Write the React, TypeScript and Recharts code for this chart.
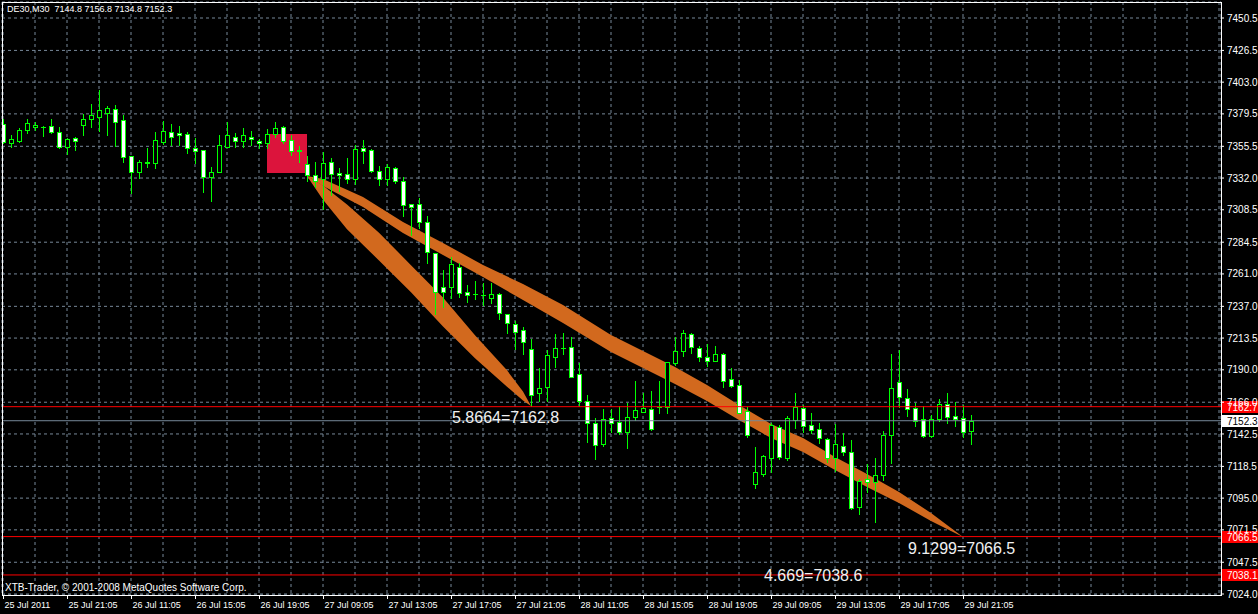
import { ComposedChart, Bar, Area, XAxis, YAxis, CartesianGrid, ReferenceLine, ReferenceArea, ReferenceDot } from "recharts"

// DE30 M30 candles, bar 0 = 25 Jul 2011 ... bar 121 = 29 Jul 21:35
const opens = [
  7372.0, 7358.2, 7359.6, 7367.6, 7370.0, 7370.0, 7370.5, 7365.9, 7354.8, 7361.6,
  7371.5, 7375.9, 7377.4, 7380.4, 7382.9, 7374.8, 7348.1, 7336.7, 7343.1, 7342.9,
  7358.9, 7365.9, 7365.1, 7364.6, 7354.0, 7352.8, 7332.5, 7336.7, 7355.2, 7362.6,
  7359.6, 7362.6, 7359.6, 7358.2, 7364.6, 7369.6, 7360.2, 7352.8, 7342.4, 7334.0,
  7331.1, 7343.9, 7335.5, 7334.8, 7331.1, 7354.2, 7352.5, 7337.0, 7331.1, 7339.2,
  7329.6, 7312.5, 7312.5, 7299.2, 7276.3, 7251.1, 7251.1, 7265.9, 7247.8, 7245.9,
  7245.2, 7243.0, 7246.1, 7231.1, 7223.9, 7219.5, 7205.4, 7172.6, 7177.1, 7199.7,
  7206.4, 7207.1, 7186.7, 7167.1, 7150.4, 7134.9, 7154.1, 7151.1, 7144.2, 7155.3,
  7159.0, 7160.8, 7162.7, 7162.7, 7195.3, 7204.2, 7216.3, 7205.9, 7199.3, 7196.8,
  7201.5, 7183.0, 7178.5, 7159.7, 7105.2, 7112.9, 7124.5, 7147.9, 7124.9, 7152.8,
  7161.5, 7149.1, 7146.2, 7138.8, 7124.5, 7133.8, 7128.9, 7088.6, 7109.2, 7107.2,
  7112.1, 7141.7, 7180.8, 7168.9, 7161.5, 7153.4, 7141.0, 7153.6, 7164.7, 7155.8,
  7154.1, 7144.8,
]
const highs = [
  7375.5, 7363.9, 7368.8, 7375.5, 7373.7, 7370.5, 7375.5, 7369.6, 7361.4, 7362.6,
  7379.4, 7386.8, 7397.2, 7385.3, 7386.1, 7378.7, 7348.1, 7345.4, 7354.0, 7366.1,
  7374.2, 7372.0, 7370.5, 7366.3, 7361.4, 7352.8, 7340.0, 7363.9, 7373.5, 7365.1,
  7368.8, 7366.8, 7360.7, 7368.1, 7373.5, 7370.5, 7363.9, 7355.7, 7348.3, 7343.9,
  7351.3, 7346.8, 7339.4, 7346.8, 7356.5, 7360.2, 7353.3, 7340.9, 7342.4, 7340.0,
  7332.5, 7312.5, 7317.0, 7303.9, 7276.3, 7263.9, 7273.8, 7268.9, 7252.8, 7256.0,
  7254.1, 7254.5, 7246.6, 7231.3, 7226.4, 7221.9, 7212.6, 7191.1, 7204.7, 7216.5,
  7217.0, 7214.1, 7195.3, 7171.4, 7154.1, 7160.8, 7160.8, 7163.2, 7165.2, 7181.7,
  7173.1, 7174.3, 7181.7, 7196.0, 7214.5, 7219.5, 7217.0, 7207.6, 7209.1, 7207.6,
  7202.2, 7191.1, 7182.5, 7162.2, 7133.1, 7126.9, 7150.4, 7149.1, 7156.0, 7172.5,
  7164.0, 7157.8, 7150.4, 7139.7, 7149.7, 7143.0, 7138.0, 7109.2, 7120.0, 7124.9,
  7144.7, 7201.7, 7204.7, 7175.6, 7165.2, 7163.2, 7156.5, 7168.2, 7172.6, 7166.2,
  7164.0, 7156.8,
]
const lows = [
  7357.9, 7355.0, 7358.9, 7365.6, 7367.6, 7363.1, 7365.1, 7354.5, 7349.8, 7352.8,
  7363.9, 7370.0, 7367.1, 7363.9, 7355.7, 7344.1, 7321.1, 7331.8, 7340.0, 7339.7,
  7357.2, 7356.5, 7356.5, 7350.8, 7343.4, 7321.9, 7315.2, 7336.7, 7355.2, 7354.8,
  7355.2, 7356.5, 7354.0, 7354.0, 7362.6, 7358.2, 7349.1, 7344.1, 7330.0, 7325.6,
  7309.3, 7319.2, 7322.2, 7328.1, 7327.6, 7343.4, 7336.7, 7327.1, 7326.9, 7328.1,
  7303.9, 7289.8, 7294.8, 7269.3, 7231.3, 7236.7, 7243.0, 7243.7, 7240.4, 7242.2,
  7238.0, 7239.3, 7227.4, 7217.0, 7205.2, 7201.7, 7163.2, 7167.1, 7167.1, 7191.9,
  7201.7, 7184.4, 7163.2, 7136.8, 7123.7, 7133.6, 7144.2, 7142.5, 7131.9, 7152.8,
  7159.0, 7145.4, 7158.3, 7157.8, 7193.6, 7200.2, 7202.7, 7196.8, 7192.8, 7196.8,
  7177.5, 7177.5, 7157.8, 7140.0, 7102.7, 7111.6, 7114.1, 7124.0, 7123.2, 7146.7,
  7144.2, 7143.0, 7135.6, 7122.0, 7115.1, 7126.9, 7086.9, 7083.5, 7099.8, 7077.1,
  7108.4, 7121.2, 7162.7, 7155.8, 7148.4, 7140.0, 7140.5, 7152.3, 7150.4, 7148.4,
  7140.5, 7134.8,
]
const closes = [
  7358.9, 7360.7, 7367.6, 7372.5, 7371.3, 7370.0, 7366.3, 7355.2, 7360.7, 7359.6,
  7375.5, 7378.5, 7382.4, 7383.9, 7373.7, 7347.4, 7336.3, 7343.9, 7344.1, 7360.2,
  7366.8, 7362.2, 7363.7, 7354.0, 7352.2, 7332.5, 7336.5, 7356.2, 7363.9, 7359.6,
  7363.9, 7360.7, 7357.7, 7364.6, 7368.8, 7359.6, 7352.2, 7352.3, 7334.5, 7330.0,
  7342.9, 7334.8, 7334.0, 7331.1, 7353.3, 7352.2, 7337.4, 7331.5, 7340.0, 7329.6,
  7312.3, 7310.8, 7299.7, 7277.0, 7247.8, 7247.8, 7268.4, 7247.1, 7245.2, 7245.9,
  7245.2, 7246.1, 7231.9, 7224.4, 7218.2, 7210.4, 7171.4, 7176.3, 7200.7, 7205.9,
  7206.4, 7184.9, 7167.1, 7150.8, 7134.3, 7153.4, 7150.4, 7144.2, 7154.8, 7160.2,
  7161.5, 7146.0, 7162.7, 7195.6, 7203.7, 7217.0, 7206.7, 7199.7, 7196.8, 7201.7,
  7181.9, 7178.2, 7158.3, 7141.7, 7114.1, 7126.2, 7149.1, 7125.7, 7154.1, 7162.7,
  7148.6, 7145.2, 7139.3, 7124.5, 7134.9, 7128.9, 7087.9, 7107.7, 7106.7, 7112.1,
  7141.7, 7176.3, 7169.7, 7160.8, 7152.3, 7141.0, 7153.4, 7164.7, 7155.3, 7153.8,
  7144.2, 7152.3,
]

// one time label every 8 bars
const timeLabels = [
  "25 Jul 2011", "25 Jul 21:05", "26 Jul 11:05", "26 Jul 15:05", "26 Jul 19:05",
  "27 Jul 09:05", "27 Jul 13:05", "27 Jul 17:05", "27 Jul 21:05", "28 Jul 11:05",
  "28 Jul 15:05", "28 Jul 19:05", "29 Jul 09:05", "29 Jul 13:05", "29 Jul 17:05",
  "29 Jul 21:05",
]
const gridBars = Array.from({ length: 39 }, (_, k) => k * 4)

const priceTicks = [
  7024.0, 7047.5, 7071.5, 7095.0, 7118.5, 7142.5, 7166.0, 7190.0, 7213.5, 7237.0,
  7261.0, 7284.5, 7308.5, 7332.0, 7355.5, 7379.5, 7403.0, 7426.5, 7450.5,
]

// orange drawn triangles: bar index, lower edge, upper edge
const shortFanBars = [38, 40, 43, 47, 51, 55, 59, 63, 65, 66]
const shortFanLow = [7333.5, 7316.0, 7294.0, 7271.0, 7247.5, 7222.0, 7198.6, 7177.5, 7167.2, 7163.2]
const shortFanHigh = [7333.5, 7326.5, 7312.5, 7291.5, 7267.5, 7243.5, 7215.6, 7189.6, 7174.0, 7163.2]

const longFanBars = [38, 40, 45, 50, 55, 60, 65, 70, 76, 80, 84, 88, 92, 96, 100, 104, 108, 112, 116, 120]
const longFanLow = [
  7333.5, 7326.1, 7310.6, 7291.3, 7275.0, 7258.7, 7241.7, 7224.7, 7203.2, 7191.3,
  7179.5, 7166.9, 7152.8, 7139.5, 7129.1, 7115.8, 7103.2, 7091.4, 7078.1, 7066.2,
]
const longFanHigh = [
  7333.5, 7331.3, 7317.9, 7299.5, 7283.9, 7267.6, 7253.5, 7238.0, 7215.8, 7203.9,
  7192.1, 7178.8, 7164.0, 7149.9, 7139.5, 7125.4, 7112.9, 7099.5, 7084.0, 7066.2,
]

// red box behind the candles
const boxBars = [33, 38]
const boxPrices = [7335.7, 7364.6]

const levelPrices = [7162.7, 7066.5, 7038.1]
const bidPrice = 7152.3

const fibTexts = ["5.8664=7162.8", "9.1299=7066.5", "4.669=7038.6"]
const fibBars = [56, 113, 95]
const fibPrices = [7159.5, 7062.5, 7042.5]

const rows = opens.map((o, i) => {
  const row: any = { i, o, h: highs[i], l: lows[i], c: closes[i], range: [lows[i], highs[i]] }
  const s = shortFanBars.indexOf(i)
  if (s >= 0) row.shortFan = [shortFanLow[s], shortFanHigh[s]]
  const f = longFanBars.indexOf(i)
  if (f >= 0) row.longFan = [longFanLow[f], longFanHigh[f]]
  return row
})

const FONT = "Tahoma, 'Liberation Sans', Arial, sans-serif"
const LIME = "#00FF00"

function Candle(props: any) {
  const { x, y, width, height, payload } = props
  if (payload == null || height == null) return null
  const { o, h, l, c } = payload
  const cx = Math.round(x + width / 2) + 0.5
  const k = Math.abs(height) / (h - l)
  const top = Math.round(y + (h - Math.max(o, c)) * k)
  const bot = Math.round(y + (h - Math.min(o, c)) * k)
  const bodyH = Math.max(bot - top, 0)
  return (
    <g>
      <line x1={cx} x2={cx} y1={Math.round(y)} y2={Math.round(y + Math.abs(height)) + 1} stroke={LIME} strokeWidth={1} />
      {bodyH < 1 ? (
        <line x1={cx - 2.5} x2={cx + 2.5} y1={top + 0.5} y2={top + 0.5} stroke={LIME} strokeWidth={1} />
      ) : (
        <rect x={cx - 2} y={top + 0.5} width={4} height={bodyH} fill={c < o ? "#FFFFFF" : "#000000"} stroke={LIME} strokeWidth={1} />
      )}
    </g>
  )
}

function TimeTick(props: any) {
  const { x, y, payload } = props
  const v = payload.value
  if (v % 8 !== 0) return null
  const label = timeLabels[v / 8]
  if (!label) return null
  const px = Math.round(x) + 0.5
  return (
    <g>
      <line x1={px} x2={px} y1={y} y2={y + 4} stroke="#FFFFFF" />
      <text x={px + 1} y={y + 13} fill="#FFFFFF" fontSize={9} fontFamily={FONT} textAnchor="start">
        {label}
      </text>
    </g>
  )
}

function priceTag(bg: string, fg: string, text: string) {
  return (props: any) => {
    const vb = props.viewBox
    if (!vb) return null
    const x = vb.x + vb.width + 1
    const y = Math.round(vb.y)
    return (
      <g>
        <rect x={x} y={y - 6} width={37} height={12} fill={bg} />
        <text x={x + 5} y={y + 4} fill={fg} fontSize={10} fontFamily={FONT}>
          {text}
        </text>
      </g>
    )
  }
}

function fibLabel(text: string) {
  return (props: any) => (
    <text x={props.cx + 1} y={props.cy + 12} fill="#F0F0F0" fontSize={16} fontFamily={FONT}>
      {text}
    </text>
  )
}

export default function App() {
  return (
    <div style={{ position: "fixed", left: 0, top: 0, width: 1258, height: 614, background: "#000000", overflow: "hidden" }}>
      <ComposedChart width={1258} height={614} data={rows} margin={{ top: 2, right: 0, bottom: 0, left: 2 }}>
        <CartesianGrid stroke="#778899" strokeDasharray="3 3" />
        <XAxis
          dataKey="i"
          type="number"
          domain={[-0.125, 152.25]}
          allowDataOverflow
          ticks={gridBars}
          interval={0}
          height={19}
          axisLine={false}
          tickLine={false}
          tickSize={0}
          tickMargin={0}
          tick={<TimeTick />}
        />
        <YAxis
          orientation="right"
          type="number"
          width={37}
          domain={[7023.26, 7462.35]}
          allowDataOverflow
          ticks={priceTicks}
          interval={0}
          axisLine={false}
          tickLine={{ stroke: "#FFFFFF" }}
          tickSize={3}
          tickMargin={3}
          tickFormatter={(v: number) => v.toFixed(1)}
          tick={{ fill: "#FFFFFF", fontSize: 10, fontFamily: FONT }}
        />
        <ReferenceArea x1={boxBars[0]} x2={boxBars[1]} y1={boxPrices[0]} y2={boxPrices[1]} fill="#DC143C" fillOpacity={1} stroke="none" />
        <Area dataKey="shortFan" type="linear" connectNulls stroke="none" fill="#D2691E" fillOpacity={1} dot={false} activeDot={false} isAnimationActive={false} />
        <Area dataKey="longFan" type="linear" connectNulls stroke="none" fill="#D2691E" fillOpacity={1} dot={false} activeDot={false} isAnimationActive={false} />
        <Bar dataKey="range" barSize={5} shape={Candle} isAnimationActive={false} />
        <ReferenceLine y={bidPrice} stroke="#778899" strokeWidth={1} label={priceTag("#FFFFFF", "#000000", bidPrice.toFixed(1))} />
        {levelPrices.map((p) => (
          <ReferenceLine key={p} y={p} stroke="#FF0000" strokeWidth={1} label={priceTag("#FF0000", "#FFFFFF", p.toFixed(1))} />
        ))}
        {fibTexts.map((t, k) => (
          <ReferenceDot key={t} x={fibBars[k]} y={fibPrices[k]} r={0} shape={fibLabel(t)} />
        ))}
      </ComposedChart>
      <div style={{ position: "absolute", left: 2, top: 2, width: 1220, height: 594, boxSizing: "border-box", border: "1px solid #FFFFFF", pointerEvents: "none" }} />
      <div style={{ position: "absolute", left: 7, top: 4, color: "#FFFFFF", fontSize: 9, fontFamily: FONT, whiteSpace: "pre", lineHeight: "11px" }}>
        {"DE30,M30  7144.8 7156.8 7134.8 7152.3"}
      </div>
      <div style={{ position: "absolute", left: 5, top: 582, color: "#FFFFFF", fontSize: 10, fontFamily: FONT, whiteSpace: "pre", lineHeight: "12px" }}>
        {"XTB-Trader, © 2001-2008 MetaQuotes Software Corp."}
      </div>
    </div>
  )
}
